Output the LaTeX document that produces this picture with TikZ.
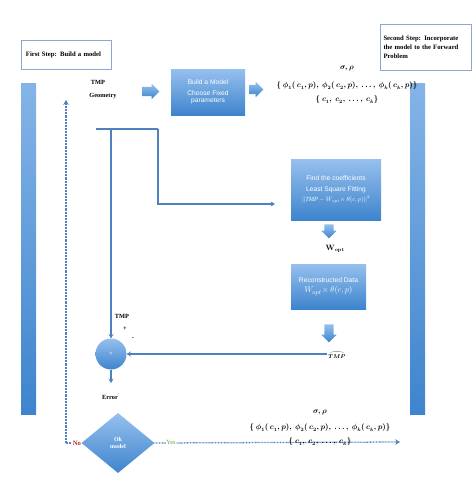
\documentclass[tikz,border=0pt]{standalone}
\usepackage{amsmath, amssymb}
\usepackage{bm}
\usepackage{fontspec}
\setmainfont{Liberation Serif}
\setsansfont{Liberation Sans}
\usepackage{tikz}
\usetikzlibrary{
  arrows.meta, positioning, shapes.geometric, shapes.arrows
}
\usepackage{xcolor}
\definecolor{lineblue}{RGB}{79, 129, 189}
\definecolor{boxtop}{RGB}{150, 192, 238}
\definecolor{boxbot}{RGB}{62, 132, 205}
\definecolor{frameblue}{RGB}{140, 168, 208}
\definecolor{nored}{RGB}{190, 40, 40}
\definecolor{yesgreen}{RGB}{110, 160, 60}

\begin{document}
\begin{tikzpicture}[
        x=0.5mm, y=-0.5mm,
        stepbox/.style={draw=frameblue, line width=0.8pt, fill=white,
                    text width=40mm, inner xsep=2.5mm, align=left,
                    font=\fontsize{9.5}{12.5}\selectfont\bfseries},
        box/.style={draw=none, top color=boxtop, bottom color=boxbot,
                    align=center, text=white, inner sep=0pt,
                    font=\fontsize{9.5}{15}\selectfont\sffamily},
        bar/.style={draw=none, top color=boxtop!80!boxbot, bottom color=boxbot,
                    minimum width=7.5mm, minimum height=165mm, inner sep=0pt},
        blockarrow/.style={single arrow, draw=none, top color=boxtop, bottom color=boxbot,
                    inner xsep=0pt, inner ysep=2.2mm, single arrow head extend=1.6mm},
        downarrow/.style={blockarrow, shape border rotate=270,
                    inner xsep=2.2mm, inner ysep=0pt},
        lbl/.style={font=\fontsize{9}{10}\selectfont\bfseries, inner sep=1pt},
        formula/.style={font=\fontsize{10.5}{12}\selectfont\bfseries\boldmath, inner sep=1pt},
        flow/.style={draw=lineblue, line width=2.2pt, -{Stealth[length=6pt, width=7pt]}},
        dotflow/.style={draw=lineblue, line width=1.8pt, dash pattern=on 1.1pt off 1pt,
                    -{Stealth[length=7pt, width=8pt]}},
      ]
        \useasboundingbox (0,0) rectangle (474,483);

        \node[stepbox, minimum height=14.5mm] (first) at (66,54.5)
          {First Step: Build a model};
        \node[stepbox, text width=42mm, inner xsep=1.75mm, minimum height=23mm] (second) at (425.5,47)
          {Second Step: Incorporate\\the model to the Forward\\Problem};

        \node[bar] (lbar) at (28.5,249) {};
        \node[bar] (rbar) at (417.5,249) {};

        \node[lbl] (tmpin) at (98,82) {TMP};
        \node[lbl] (geo) at (103,96) {Geometry};
        \node[blockarrow, minimum height=8.5mm] (arr1) at (148.5,91.5) {};

        \node[box, minimum width=37mm, minimum height=23mm] (model) at (208,92)
          {Build a Model\\Choose Fixed\\[-5pt]parameters};
        \node[blockarrow, minimum height=7mm] (arr2) at (254,89.5) {};

        \node[formula] (sig1) at (347,69) {$\sigma,\rho$};
        \node[formula] (phi1) at (347,86)
          {$\{\ \phi_1(\,c_1,p),\ \phi_2(\,c_2,p),\ \dots,\ \phi_k(\,c_k,p)\}$};
        \node[formula] (cset1) at (347,100) {$\{\ c_1,\ c_2,\ \dots,\ c_k\}$};

        \coordinate (jl) at (96,129);
        \coordinate (jm) at (111,129);
        \coordinate (jr) at (158,129);
        \coordinate (fitin) at (275,204);

        \node[box, minimum width=45mm, minimum height=30.5mm] (coef) at (336,189.5)
          {Find the coefficients\\Least Square Fitting\\
           {\fontsize{9}{11}\selectfont$\|\mathit{TMP}-W_{opt}\!\times\theta(c,p)\|^2$}};
        \node[downarrow, minimum height=7mm] (arr3) at (329,229) {};
        \node[formula] (wopt) at (335,249) {$\mathbf{W}_{\mathbf{opt}}$};

        \node[box, minimum width=37.5mm, minimum height=22.5mm] (recon) at (328.5,286.5)
          {Reconstructed Data\\{\fontsize{13}{15}\selectfont$W_{opt}\!\times\theta(c,p)$}};
        \node[downarrow, minimum height=9mm] (arr4) at (329,331) {};
        \node[formula, font=\fontsize{8.5}{9}\selectfont\bfseries\boldmath] (tmphat) at (337,355) {$\widehat{TMP}$};

        \node[circle, top color=boxtop, bottom color=boxbot, minimum size=15.5mm,
              inner sep=0pt, text=white, font=\fontsize{8.5}{9}\selectfont\bfseries] (sum) at (111,354) {+};
        \node[lbl] (tmpsum) at (122,316) {TMP};
        \node[lbl] (plus) at (125,329) {+};
        \node[lbl] (minus) at (133,339) {-};
        \coordinate (errtop) at (111,383);
        \node[lbl] (err) at (110,397) {Error};

        \node[diamond, top color=boxtop, bottom color=boxbot, minimum width=36.5mm,
              minimum height=30mm, inner sep=0pt, align=center, text=white,
              font=\fontsize{8.5}{11}\selectfont\bfseries] (ok) at (118,443) {Ok\\model};
        \coordinate (loopcorner) at (66,443);
        \coordinate (loopend) at (66,100);
        \coordinate (yesend) at (400,442);

        \node[formula] (sig2) at (320,413) {$\sigma,\rho$};
        \node[formula] (phi2) at (320,428)
          {$\{\ \phi_1(\,c_1,p),\ \phi_2(\,c_2,p),\ \dots,\ \phi_k(\,c_k,p)\}$};

        \draw[draw=lineblue, line width=2.2pt] (jl) -- (jr);
        \draw[flow] (jm) -- (sum.north);
        \draw[flow] (jr) |- (fitin);
        \draw[flow] (tmphat.west |- sum) -- (sum.east);
        \draw[flow] (sum.south) -- (errtop);

        \draw[dotflow, -] (ok.west) -- (loopcorner);
        \draw[dotflow] (loopcorner) -- (loopend);
        \draw[dotflow] (ok.east) -- (yesend);
        \node[lbl, text=nored, fill=white, font=\fontsize{9.5}{10}\selectfont\bfseries] (no) at (77,443) {No};
        \node[lbl, text=yesgreen, fill=white, font=\fontsize{9}{10}\selectfont] (yes) at (171,442) {Yes};
        \node[formula] (cset2) at (320,442) {$\{\ c_1,\ c_2,\ \dots,\ c_k\}$};
      \end{tikzpicture}
\end{document}
